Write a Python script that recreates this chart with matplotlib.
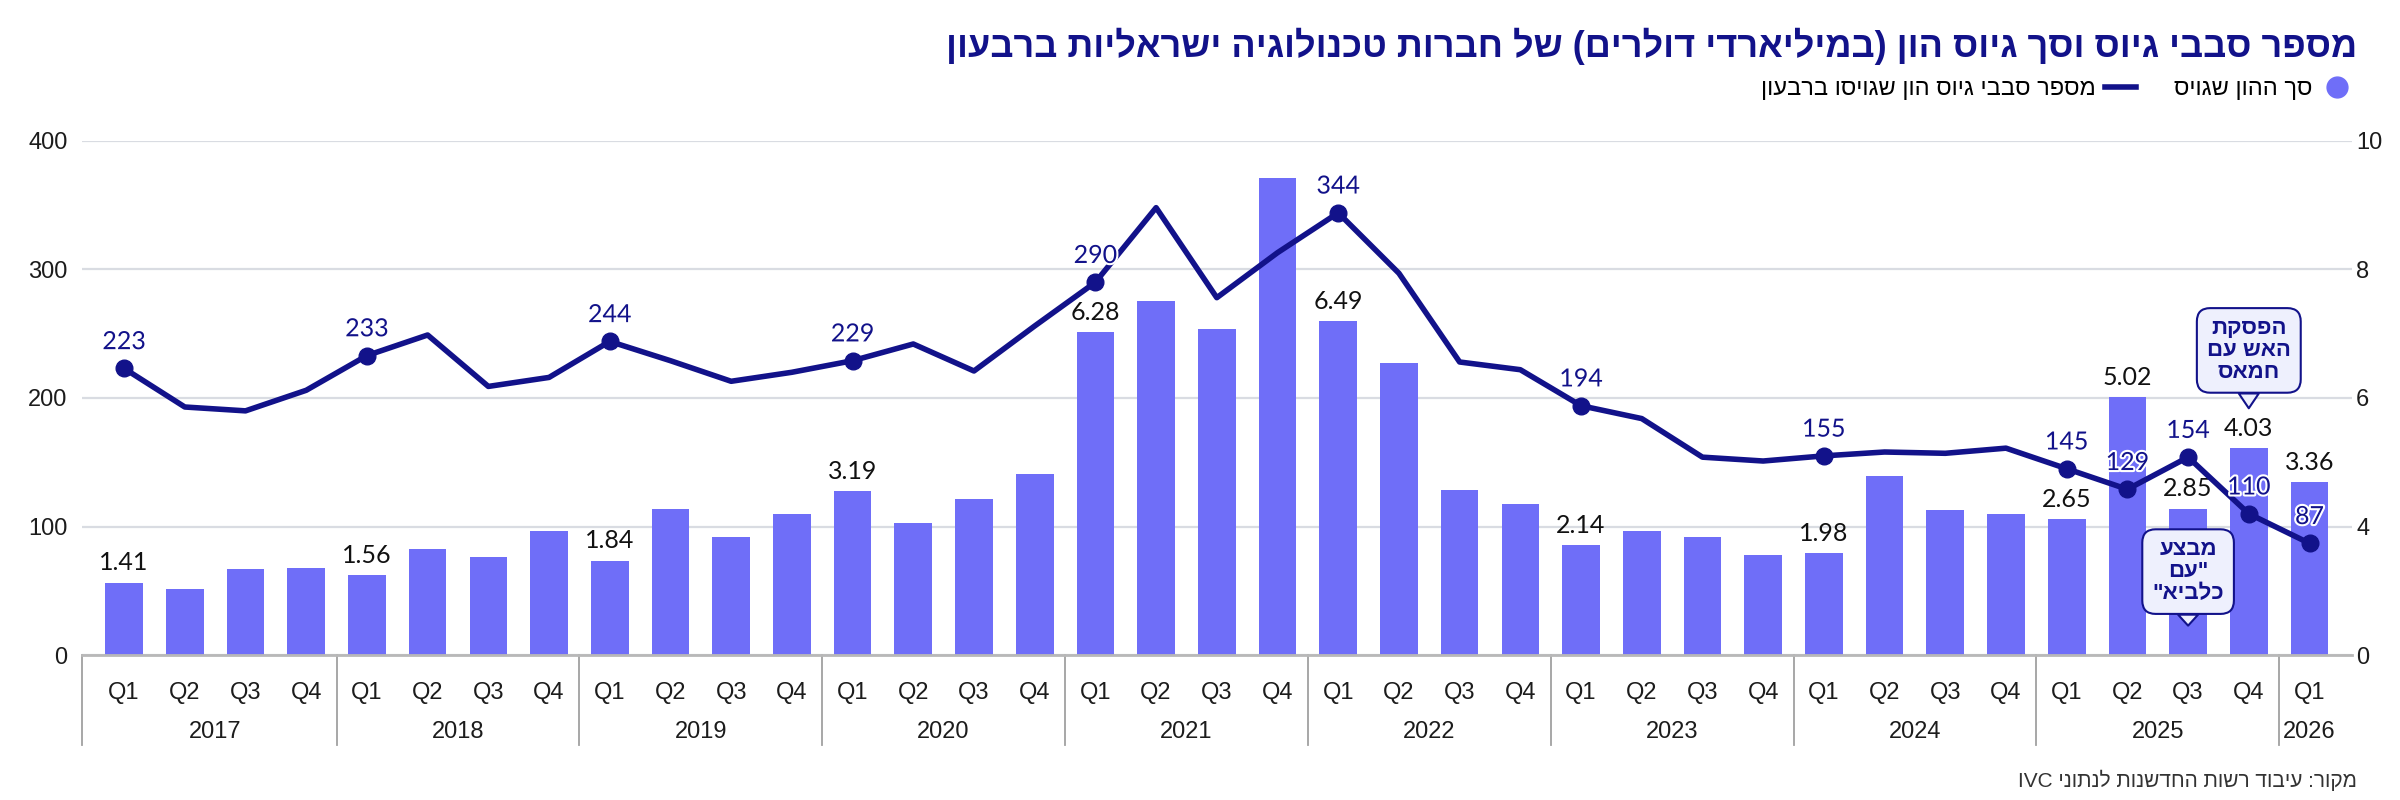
import re
import matplotlib
matplotlib.use('Agg')
import matplotlib.pyplot as plt
import matplotlib.transforms as mtransforms
import matplotlib.patheffects as pe
from matplotlib.lines import Line2D


# ==================== DATA ====================

years = ['2017', '2018', '2019', '2020', '2021', '2022', '2023', '2024', '2025', '2026']
quarters = ['Q1', 'Q2', 'Q3', 'Q4'] * 9 + ['Q1']

# capital raised, $bn (bars)
capital = [1.41, 1.28, 1.67, 1.69,
           1.56, 2.06, 1.91, 2.41,
           1.84, 2.85, 2.30, 2.75,
           3.19, 2.57, 3.03, 3.52,
           6.28, 6.88, 6.34, 9.28,
           6.49, 5.68, 3.22, 2.93,
           2.14, 2.41, 2.30, 1.94,
           1.98, 3.49, 2.82, 2.75,
           2.65, 5.02, 2.85, 4.03,
           3.36]

# number of funding rounds (line)
rounds = [223, 193, 190, 206,
          233, 249, 209, 216,
          244, 229, 213, 220,
          229, 242, 221, 256,
          290, 348, 278, 313,
          344, 297, 228, 222,
          194, 184, 154, 151,
          155, 158, 157, 161,
          145, 129, 154, 110,
          87]

labelled = [0, 4, 8, 12, 16, 20, 24, 28, 32, 33, 34, 35, 36]

title = 'מספר סבבי גיוס וסך גיוס הון (במיליארדי דולרים) של חברות טכנולוגיה ישראליות ברבעון'
legend_line = 'מספר סבבי גיוס הון שגויסו ברבעון'
legend_bar = 'סך ההון שגויס'
source = 'מקור: עיבוד רשות החדשנות לנתוני IVC'

BAR = '#6f6ef8'
NAVY = '#12128a'
TEXT = '#1c1c1c'


def rtl(s):
    """Hebrew logical order -> visual order (no bidi lib here)"""
    out = s[::-1]
    out = re.sub(r'[A-Za-z0-9.]+', lambda m: m.group(0)[::-1], out)
    return out.translate(str.maketrans('()', ')('))


narrow = ['Liberation Sans Narrow', 'Liberation Sans', 'DejaVu Sans']
heb = ['Liberation Sans', 'DejaVu Sans']
plt.rcParams['font.family'] = narrow

# ==================== CHART ====================

fig = plt.figure(figsize=(24, 8), dpi=100)
ax = fig.add_axes([0.034, 0.181, 0.946, 0.643])
x = list(range(len(capital)))

ax.bar(x, capital, width=0.62, color=BAR, zorder=2)
ax.set_ylim(0, 10)
ax.set_xlim(-0.7, 36.7)
ax.grid(axis='y', color='#d9dce2', lw=1.6)
ax.set_axisbelow(True)
for s in ['top', 'left', 'right']:
    ax.spines[s].set_visible(False)
ax.spines['bottom'].set_color('#b8b8b8')
ax.spines['bottom'].set_linewidth(2)

ax.set_xticks(x)
ax.set_xticklabels(quarters)
ax.tick_params(axis='x', length=0, pad=19, labelsize=17, labelcolor=TEXT)

# year separators and year labels
trans = mtransforms.blended_transform_factory(ax.transData, ax.transAxes)
for sep in [-0.7] + [3.5 + 4 * k for k in range(9)]:
    ax.add_line(Line2D([sep, sep], [0, -0.175], transform=trans,
                       color='#a0a0a0', lw=1.3, clip_on=False))
for k, yr in enumerate(years):
    xc = 1.5 + 4 * k if yr != '2026' else 36
    ax.text(xc, -0.15, yr, transform=trans, ha='center', va='center',
            fontsize=17, color=TEXT)

for i in labelled:
    ax.annotate(f'{capital[i]:.2f}', (i, capital[i]), xytext=(0, 6),
                textcoords='offset points', ha='center', va='bottom',
                fontsize=18, color='#111111', family='Lato')

# line on twin axis, ticks on the left
axl = ax.twinx()
axl.set_ylim(0, 400)
for s in axl.spines.values():
    s.set_visible(False)

# twinx moves the first axis ticks, so set sides afterwards
ax.yaxis.tick_right()
ax.set_yticks([0, 2.5, 5, 7.5, 10])
ax.set_yticklabels(['0', '4', '6', '8', '10'])
ax.tick_params(axis='y', length=0, pad=3, labelsize=17, labelcolor=TEXT)
axl.yaxis.tick_left()
axl.set_yticks([0, 100, 200, 300, 400])
axl.tick_params(axis='y', length=0, pad=10, labelsize=17, labelcolor=TEXT)

axl.plot(x, rounds, color=NAVY, lw=4, solid_joinstyle='round', zorder=3)
axl.plot(labelled, [rounds[i] for i in labelled], 'o', color=NAVY, ms=12, zorder=4)
for i in labelled:
    axl.annotate(str(rounds[i]), (i, rounds[i]), xytext=(0, 11),
                 textcoords='offset points', ha='center', va='bottom',
                 fontsize=18, color=NAVY, family='Lato', zorder=5,
                 path_effects=[pe.withStroke(linewidth=3, foreground='white')])

# callouts
box = dict(boxstyle='round,pad=0.45,rounding_size=0.6', fc='#eef0fd', ec=NAVY, lw=1.5)
arrow = dict(arrowstyle='wedge,tail_width=0.9', fc='#eef0fd', ec=NAVY, lw=1.5,
             shrinkA=0, shrinkB=0)
ceasefire = '\n'.join(rtl(s) for s in ['הפסקת', 'האש עם', 'חמאס'])
axl.annotate(ceasefire, xy=(35, 192), xytext=(35, 237), ha='center', va='center',
             fontsize=16, fontweight='bold', color=NAVY, family=heb,
             linespacing=1.05, bbox=box, arrowprops=arrow, zorder=6)
operation = '\n'.join([rtl('מבצע'), rtl('עם') + '"', '"' + rtl('כלביא')])
axl.annotate(operation, xy=(34, 23), xytext=(34, 65), ha='center', va='center',
             fontsize=16, fontweight='bold', color=NAVY, family=heb,
             linespacing=1.05, bbox=box, arrowprops=arrow, zorder=6)

# title, legend, source
fig.text(0.982, 0.942, rtl(title), ha='right', va='center', fontsize=26,
         fontweight='bold', color=NAVY, family=heb)

handles = [Line2D([], [], color=NAVY, lw=4),
           Line2D([], [], marker='o', ls='none', color=BAR, ms=15)]
fig.legend(handles, [rtl(legend_line), rtl(legend_bar)], ncol=2,
           markerfirst=False, loc='center right', bbox_to_anchor=(0.989, 0.889),
           frameon=False, prop={'family': heb, 'size': 17},
           handlelength=1.3, handletextpad=0.4, columnspacing=1.6)

fig.text(0.982, 0.025, rtl(source), ha='right', va='center', fontsize=15,
         color='#333333', family=heb)

fig.savefig('out.png', dpi=100)
